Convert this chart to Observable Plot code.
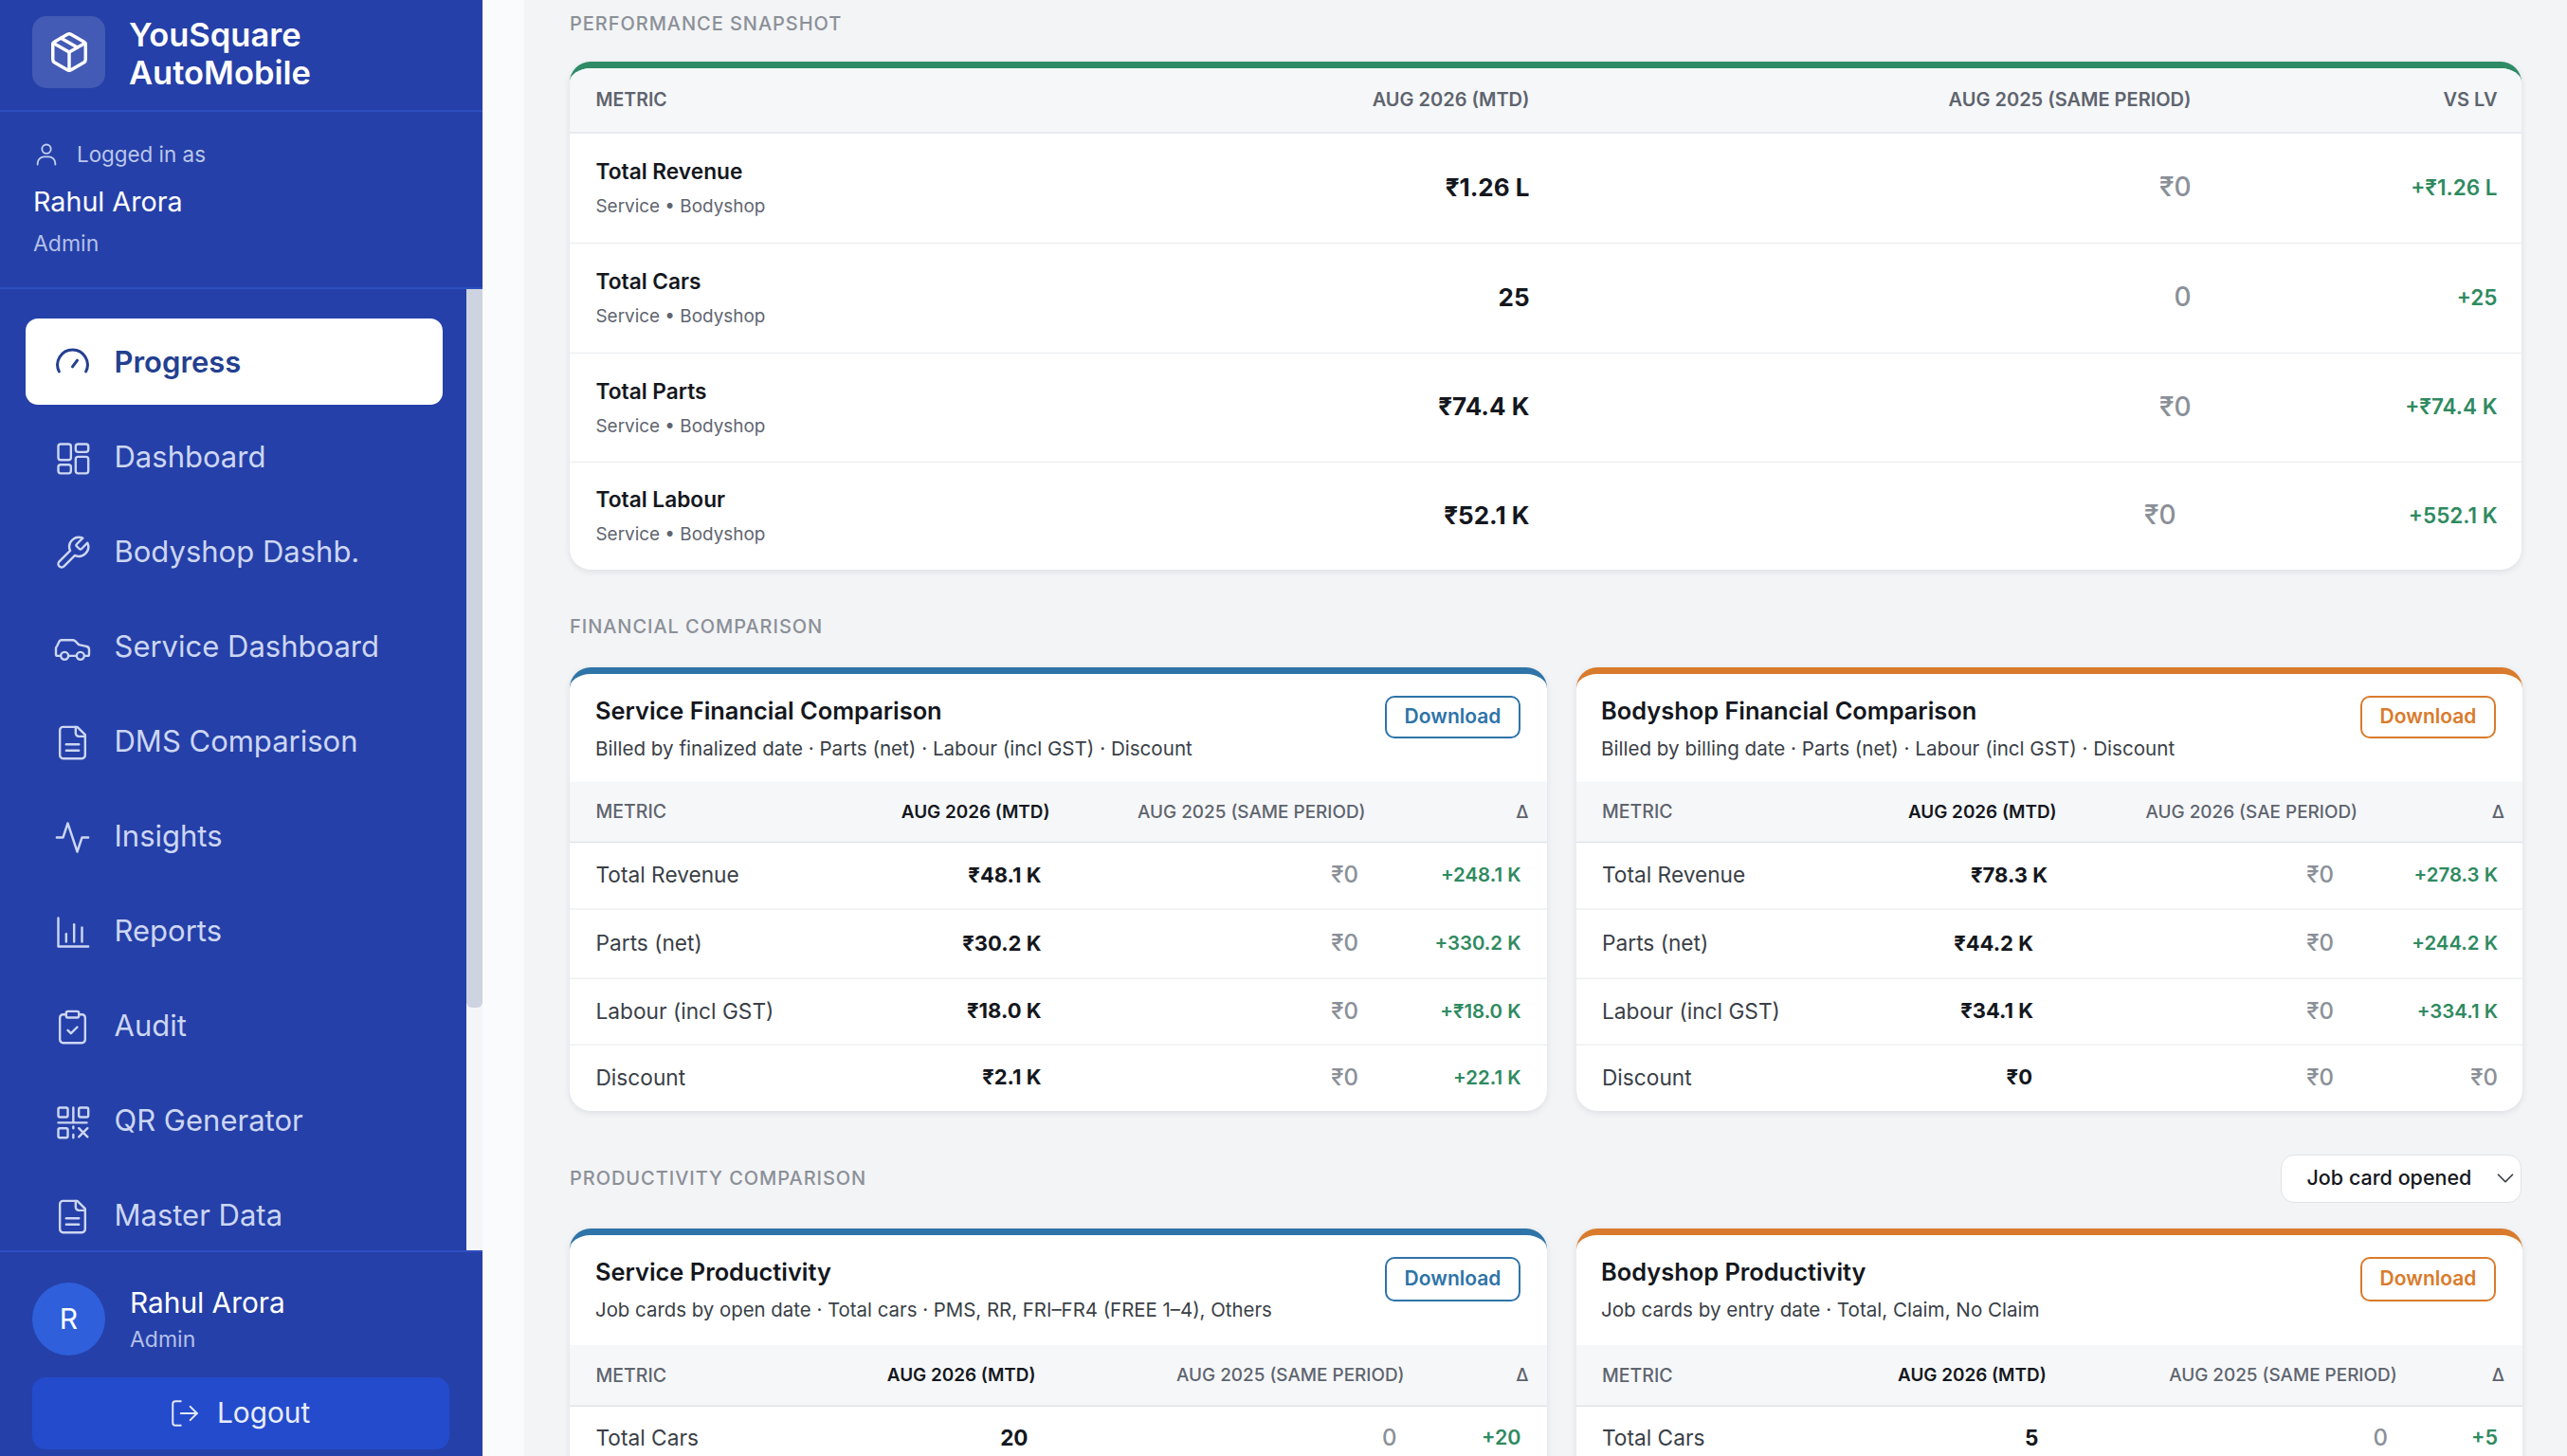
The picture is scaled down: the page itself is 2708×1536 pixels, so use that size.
<!DOCTYPE html>
<html><head><meta charset="utf-8">
<script src="https://cdn.jsdelivr.net/npm/d3@7"></script>
<script src="https://cdn.jsdelivr.net/npm/@observablehq/plot@0.6"></script>
<style>
html,body{margin:0;padding:0;background:#f3f4f6;}
#page{position:relative;width:2708px;height:1536px;overflow:hidden;background:#f3f4f6;font-family:Inter,"DejaVu Sans",sans-serif;}
.abs{position:absolute;white-space:nowrap;}
.card{position:absolute;background:#fff;box-sizing:border-box;border-radius:22px;overflow:hidden;box-shadow:0 2px 7px rgba(30,40,70,.10);}
#page svg{position:absolute;overflow:visible;}
</style></head><body><div id="page"></div>
<script>
// ---- data ----
const navItems = ["Progress","Dashboard","Bodyshop Dashb.","Service Dashboard","DMS Comparison","Insights","Reports","Audit","QR Generator","Master Data"];
const navIcons = ["gauge","grid","wrench","car","file","pulse","bars","clip","qr","file"];

const snapHeaders = ["METRIC","AUG 2026 (MTD)","AUG 2025 (SAME PERIOD)","VS LV"];
const snapMetrics = ["Total Revenue","Total Cars","Total Parts","Total Labour"];
const snapSub = "Service • Bodyshop";
const snapCurrent = ["₹1.26 L","25","₹74.4 K","₹52.1 K"];
const snapPrior = ["₹0","0","₹0","₹0"];
const snapDelta = ["+₹1.26 L","+25","+₹74.4 K","+552.1 K"];

const finMetrics = ["Total Revenue","Parts (net)","Labour (incl GST)","Discount"];
const svcFinHeaders = ["METRIC","AUG 2026 (MTD)","AUG 2025 (SAME PERIOD)","Δ"];
const svcFinCurrent = ["₹48.1 K","₹30.2 K","₹18.0 K","₹2.1 K"];
const svcFinPrior = ["₹0","₹0","₹0","₹0"];
const svcFinDelta = ["+248.1 K","+330.2 K","+₹18.0 K","+22.1 K"];

const bodyFinHeaders = ["METRIC","AUG 2026 (MTD)","AUG 2026 (SAE PERIOD)","Δ"];
const bodyFinCurrent = ["₹78.3 K","₹44.2 K","₹34.1 K","₹0"];
const bodyFinPrior = ["₹0","₹0","₹0","₹0"];
const bodyFinDelta = ["+278.3 K","+244.2 K","+334.1 K","₹0"];

const prodHeaders = ["METRIC","AUG 2026 (MTD)","AUG 2025 (SAME PERIOD)","Δ"];
const prodMetrics = ["Total Cars"];
const svcProdCurrent = ["20"], svcProdPrior = ["0"], svcProdDelta = ["+20"];
const bodyProdCurrent = ["5"], bodyProdPrior = ["0"], bodyProdDelta = ["+5"];

// ---- styles ----
const FONT = 'Inter,"DejaVu Sans",sans-serif';
const INK="#14171d", GREY="#8b9098", GREEN="#2f8a60", HEAD="#5e646e", BLUE="#2e74a8", ORANGE="#d97b2c", SUB="#3a3f47";
const page = document.getElementById("page");

function add(html){const t=document.createElement("div");t.innerHTML=html;const e=t.firstElementChild;page.appendChild(e);return e;}
function box(x,y,w,h,css){return add(`<div class="abs" style="left:${x}px;top:${y}px;width:${w}px;height:${h}px;${css}"></div>`);}
function label(text,x,yc,css){return add(`<div class="abs" style="left:${x}px;top:${yc}px;transform:translateY(-50%);line-height:1;${css}">${text}</div>`);}

const ICON = {
 gauge:'<path d="M3.5 17a9.5 9.5 0 1 1 17 0"/><path d="m12 14 3-4"/>',
 grid:'<rect x="3" y="3" width="8" height="10" rx="1.5"/><rect x="14" y="3" width="8" height="5" rx="1.5"/><rect x="3" y="16" width="8" height="5.5" rx="1.5"/><rect x="14" y="11" width="8" height="10.5" rx="1.5"/>',
 wrench:'<path d="M14.7 6.3a1 1 0 0 0 0 1.4l1.6 1.6a1 1 0 0 0 1.4 0l3.77-3.77a6 6 0 0 1-7.94 7.94l-6.91 6.91a2.12 2.12 0 0 1-3-3l6.91-6.91a6 6 0 0 1 7.94-7.94l-3.76 3.76z"/>',
 car:'<path d="M20 17h1.5c.6 0 1-.4 1-1v-3c0-.9-.7-1.7-1.5-1.9C18.7 10.6 16 10 16 10s-1.3-1.4-2.2-2.3c-.5-.4-1.1-.7-1.8-.7H5c-.6 0-1.1.4-1.4.9l-1.4 2.9A3.7 3.7 0 0 0 1.5 12v4c0 .6.4 1 1 1H4"/><circle cx="7" cy="17" r="2.4"/><path d="M9.5 17h5"/><circle cx="17" cy="17" r="2.4"/>',
 file:'<path d="M15 2H6a2 2 0 0 0-2 2v16a2 2 0 0 0 2 2h12a2 2 0 0 0 2-2V7Z"/><path d="M14 2v4a2 2 0 0 0 2 2h4"/><path d="M16 13H8"/><path d="M16 17H8"/>',
 pulse:'<path d="M22 12h-4l-3 9L9 3l-3 9H2"/>',
 bars:'<path d="M3 3v18h19"/><path d="M8 18v-5"/><path d="M13 18V7"/><path d="M18 18v-9"/>',
 clip:'<rect x="8" y="2" width="8" height="4" rx="1"/><path d="M16 4h2a2 2 0 0 1 2 2v14a2 2 0 0 1-2 2H6a2 2 0 0 1-2-2V6a2 2 0 0 1 2-2h2"/><path d="m9 14 2 2 4-4"/>',
 qr:'<rect x="3" y="3" width="6" height="6" rx="1"/><rect x="16" y="3" width="6" height="6" rx="1"/><rect x="3" y="16" width="6" height="6" rx="1"/><path d="M12.5 3v9M12.5 15v1M3 12.5h18M12.5 20v2M16 16l5.5 5.5M21.5 16 16 21.5"/>',
 user:'<circle cx="12" cy="7" r="4"/><path d="M4 21v-1a6 6 0 0 1 6-6h4a6 6 0 0 1 6 6v1"/>',
 box:'<path d="m7.5 4.27 9 5.15"/><path d="M21 8a2 2 0 0 0-1-1.73l-7-4a2 2 0 0 0-2 0l-7 4A2 2 0 0 0 3 8v8a2 2 0 0 0 1 1.73l7 4a2 2 0 0 0 2 0l7-4A2 2 0 0 0 21 16Z"/><path d="m3.3 7 8.7 5 8.7-5"/><path d="M12 22V12"/>',
 logout:'<path d="M9 21H5a2 2 0 0 1-2-2V5a2 2 0 0 1 2-2h4"/><path d="m16 17 5-5-5-5"/><path d="M21 12H9"/>',
 chev:'<path d="m6 9 6 6 6-6"/>'
};
function iconUri(name,color,sw=1.6){
  return "data:image/svg+xml;utf8,"+encodeURIComponent(`<svg xmlns="http://www.w3.org/2000/svg" viewBox="0 0 24 24" fill="none" stroke="${color}" stroke-width="${sw}" stroke-linecap="round" stroke-linejoin="round">${ICON[name]}</svg>`);
}
function icon(name,cx,cy,size,color,sw){
  return add(`<img class="abs" alt="" src="${iconUri(name,color,sw)}" style="left:${cx-size/2}px;top:${cy-size/2}px;width:${size}px;height:${size}px">`);
}

// ---- page background and sidebar chrome ----
box(509,0,44,1536,"background:#fafbfc");
box(0,0,509,1536,"background:#2540a8");
box(492,304,17,1016,"background:#f4f5f7");
box(492,304,17,759,"background:#cdd3e0;border-radius:0 0 6px 6px");
box(0,116,509,1.5,"background:#2f4fc0");
box(0,303,509,1.5,"background:#2f4fc0");
box(0,1319,509,1.5,"background:#2f4fc0");
box(34,17,77,76,"background:rgba(255,255,255,.14);border-radius:15px");
icon("box",73,55,46,"#fff",1.8);
label("YouSquare",136,37,"color:#fff;font-size:34.5px;font-weight:600");
label("AutoMobile",136,77,"color:#fff;font-size:34.5px;font-weight:600");
icon("user",49,163,28,"#c3cff0",1.6);
label("Logged in as",81,163,"color:#bac6ec;font-size:22.4px");
label("Rahul Arora",35,213,"color:#fff;font-size:28.7px;font-weight:400");
label("Admin",35,257,"color:#b3c0ea;font-size:23px");
box(27,336,440,91,"background:#fff;border-radius:13px");

// ---- nav list: labels and icons placed by an ordinal scale ----
const others = navItems.filter((d,i)=>i>0);
const iconOf = d => navIcons[navItems.indexOf(d)];
const navPlot = Plot.plot({
  width:492,height:1536,margin:0,
  x:{axis:null,domain:[0,492],range:[0,492]},
  y:{type:"point",domain:navItems,range:[382,1284],padding:0,axis:null},
  style:{background:"transparent",fontFamily:FONT},
  marks:[
    Plot.text(navItems.slice(0,1),{y:d=>d,text:d=>d,frameAnchor:"left",dx:120,textAnchor:"start",fontSize:31,fontWeight:600,fill:"#23408f"}),
    Plot.text(others,{y:d=>d,text:d=>d,frameAnchor:"left",dx:120,textAnchor:"start",fontSize:31,fontWeight:400,fill:"#ccd6f3"}),
    Plot.image(navItems.slice(0,1),{y:d=>d,frameAnchor:"left",dx:76,width:40,height:40,src:d=>iconUri(iconOf(d),"#23408f",1.8)}),
    Plot.image(others,{y:d=>d,frameAnchor:"left",dx:76,width:40,height:40,src:d=>iconUri(iconOf(d),"#ccd6f3",1.45)})
  ]
});
navPlot.style.left="0";navPlot.style.top="0";page.appendChild(navPlot);

add(`<div class="abs" style="left:34px;top:1353px;width:77px;height:77px;border-radius:50%;background:#2f5fdb"></div>`);
label("R",72.5,1391,"color:#fff;font-size:30px;transform:translate(-50%,-50%)");
label("Rahul Arora",137,1375,"color:#fff;font-size:29.8px");
label("Admin",137,1413,"color:#b3c0ea;font-size:23px");
box(34,1453,440,76,"background:#244bcb;border-radius:14px");
icon("logout",195,1491,34,"#e3e9fa",1.4);
label("Logout",229,1491,"color:#e8edfb;font-size:29.8px");

// ---- main: section titles ----
const SECTION="color:#8b9098;font-size:20px;font-weight:500;letter-spacing:.95px";
label("PERFORMANCE SNAPSHOT",601,24.5,SECTION);
label("FINANCIAL COMPARISON",601,661,SECTION);
label("PRODUCTIVITY COMPARISON",601,1243,SECTION);

// ---- table drawn through Plot scales: x = column index, y = row index ----
function table(o){
  const {left,top,width,bottom,headers,metrics,sub,current,prior,delta,xStops,yStops,headerRight,nudge={},headStrong=false,barColor,bar=7.5} = o;
  const card = add(`<div class="card" style="left:${left}px;top:${top}px;width:${width}px;height:${bottom-top}px;border-top:${bar}px solid ${barColor}"></div>`);
  const rel = v => v-left, relY = v => v-top;
  const rows = metrics.length;
  const headSize = o.headSize||18.9;
  const marks = [
    Plot.rect([0],{y1:()=>0,y2:()=>1,fill:"#f6f7f9"}),
    Plot.ruleY([1],{stroke:"#e0e3e8",strokeWidth:1.5}),
    Plot.ruleY(d3.range(2,rows+1),{stroke:"#eef0f2",strokeWidth:1.5})
  ];
  headers.forEach((h,c)=>{
    marks.push(Plot.text([h],{x:()=>c,y:()=>0.5,text:d=>d,textAnchor:c===0?"start":"end",
      dx:headerRight[c]-xStops[c],dy:o.headDy||0,fontSize:c===0?19.5:headSize,fontWeight:c===1&&headStrong?600:(o.headWeight||500),
      fill:c===1&&headStrong?INK:HEAD}));
  });
  metrics.forEach((m,r)=>{
    const y = r+1.5;
    if(sub){
      marks.push(Plot.text([m],{x:()=>0,y:()=>y,text:d=>d,textAnchor:"start",dy:-16.5,fontSize:o.nameSize||22.7,fontWeight:600,fill:INK}));
      marks.push(Plot.text([sub],{x:()=>0,y:()=>y,text:d=>d,textAnchor:"start",dy:19.5,fontSize:18.9,fill:"#5f6570"}));
    } else {
      marks.push(Plot.text([m],{x:()=>0,y:()=>y,text:d=>d,textAnchor:"start",fontSize:o.nameSize||22.7,fill:SUB}));
    }
    [[current,1,o.curSize||22,700,INK],[prior,2,o.priorSize||24,500,GREY],[delta,3,o.deltaSize||20.4,600,GREEN]].forEach(([arr,c,fs,fw,col])=>{
      const v=arr[r];
      const plain = c===3 && !v.startsWith("+");
      marks.push(Plot.text([v],{x:()=>c,y:()=>y,text:d=>d,textAnchor:"end",dx:(nudge[r+","+c]||0),fontSize:plain?24:fs,fontWeight:plain?500:fw,fill:plain?GREY:col}));
    });
  });
  const svg = Plot.plot({
    width,height:bottom-top,margin:0,
    x:{type:"linear",domain:[0,1,2,3],range:xStops.map(rel),axis:null},
    y:{type:"linear",domain:d3.range(yStops.length),range:yStops.map(relY),axis:null},
    style:{background:"transparent",fontFamily:FONT},
    marks
  });
  svg.style.left="0";svg.style.top=(-bar)+"px";card.appendChild(svg);
}

function cardHead(x,top,title,sub,btnX,btnTop,btnBottom,color,subSize=20.6){
  label(title,x,top+46,`color:${INK};font-size:25.4px;font-weight:600`);
  label(sub,x,top+85.5,`color:#3a3f47;font-size:${subSize}px`);
  box(btnX,btnTop,143,btnBottom-btnTop,`box-sizing:border-box;border:2px solid ${color};border-radius:10px;background:#fff`);
  label("Download",btnX+71.5,(btnTop+btnBottom)/2-1,`color:${color};font-size:21px;font-weight:600;transform:translate(-50%,-50%)`);
}

table({left:601,top:65,width:2059,bottom:601,headers:snapHeaders,metrics:snapMetrics,sub:snapSub,
  current:snapCurrent,prior:snapPrior,delta:snapDelta,barColor:"#2e8b66",
  xStops:[628,1613,2311,2634],headerRight:[628,1613,2311,2634],headSize:20,headWeight:600,headDy:-1,
  yStops:[72,139.6,256,372,487,601],nudge:{"3,2":-16},curSize:26,deltaSize:22.5,priorSize:28});

const finY=[824.6,888,958.6,1031.8,1101.8,1172];
table({left:601,top:704,width:1031,bottom:1172,headers:svcFinHeaders,metrics:finMetrics,
  current:svcFinCurrent,prior:svcFinPrior,delta:svcFinDelta,barColor:BLUE,headStrong:true,
  xStops:[628,1098,1432.6,1604],headerRight:[628,1107,1440,1612],yStops:finY});
cardHead(628,704,"Service Financial Comparison","Billed by finalized date · Parts (net) · Labour (incl GST) · Discount",1461,733.5,779,BLUE);

table({left:1662.5,top:704,width:998.5,bottom:1172,headers:bodyFinHeaders,metrics:finMetrics,
  current:bodyFinCurrent,prior:bodyFinPrior,delta:bodyFinDelta,barColor:ORANGE,headStrong:true,
  xStops:[1689,2159,2461,2634],headerRight:[1689,2168.6,2486,2641],yStops:finY,
  nudge:{"1,1":-15,"2,1":-15,"3,1":-16}});
cardHead(1689,704,"Bodyshop Financial Comparison","Billed by billing date · Parts (net) · Labour (incl GST) · Discount",2490,733.5,779,ORANGE);

const prodY=[1419,1482.7,1551];
table({left:601,top:1296,width:1031,bottom:1640,headers:prodHeaders,metrics:prodMetrics,
  current:svcProdCurrent,prior:svcProdPrior,delta:svcProdDelta,barColor:BLUE,headStrong:true,
  xStops:[628,1084,1473,1604],headerRight:[628,1092,1481,1612],yStops:prodY,curSize:22.5,deltaSize:21.5});
cardHead(628,1296,"Service Productivity","Job cards by open date · Total cars · PMS, RR, FRI–FR4 (FREE 1–4), Others",1461,1325.7,1372.7,BLUE,20.4);

table({left:1662.5,top:1296,width:998.5,bottom:1640,headers:prodHeaders,metrics:prodMetrics,
  current:bodyProdCurrent,prior:bodyProdPrior,delta:bodyProdDelta,barColor:ORANGE,headStrong:true,
  xStops:[1689,2149.5,2518,2634],headerRight:[1689,2157.7,2527.6,2641],yStops:prodY,curSize:22.5,deltaSize:21.5});
cardHead(1689,1296,"Bodyshop Productivity","Job cards by entry date · Total, Claim, No Claim",2490,1325.7,1372.7,ORANGE);

// ---- dropdown ----
box(2405.5,1218,254.5,51,"background:#fff;border:1.5px solid #dfe2e7;border-radius:14px;box-sizing:border-box");
label("Job card opened",2433.5,1243,`color:${INK};font-size:21.5px;font-weight:500`);
icon("chev",2643,1243,30,"#3a3f47",1.4);
</script></body></html>
